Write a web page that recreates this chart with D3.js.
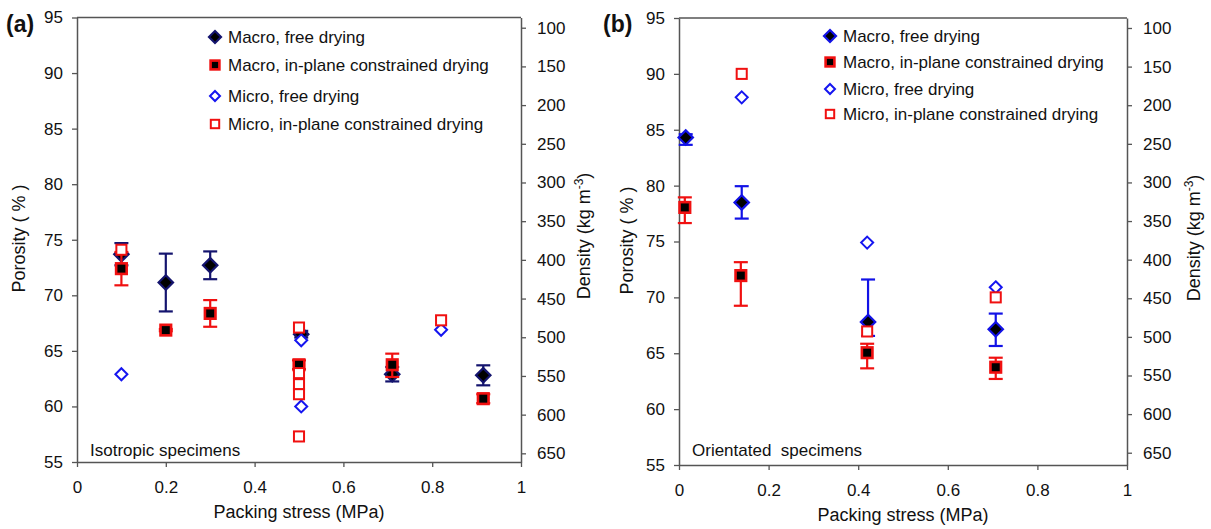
<!DOCTYPE html>
<html>
<head>
<meta charset="utf-8">
<script src="https://cdn.jsdelivr.net/npm/d3@7/dist/d3.min.js"></script>
<style>
  html, body { margin: 0; padding: 0; background: #fff; }
  svg { display: block; font-family: Arial, "Liberation Sans", sans-serif; }
</style>
</head>
<body>
<svg id="chart" width="1211" height="529"></svg>
<script>
// ---------- DATA ----------
const porosityTicks = [55, 60, 65, 70, 75, 80, 85, 90, 95];
const densityTicks = [100, 150, 200, 250, 300, 350, 400, 450, 500, 550, 600, 650];
const stressTicks = [0, 0.2, 0.4, 0.6, 0.8, 1];
const legendLabels = ["Macro, free drying", "Macro, in-plane constrained drying", "Micro, free drying", "Micro, in-plane constrained drying"];

// Panel (a) isotropic specimens
const a_macroFree_x = [0.1, 0.2, 0.3, 0.505, 0.71, 0.915];
const a_macroFree_y = [73.7, 71.15, 72.7, 66.5, 62.9, 62.8];
const a_macroFree_ep = [1.0, 2.6, 1.25, 0.3, 0.65, 0.9];
const a_macroFree_em = [1.0, 2.6, 1.25, 0.3, 0.65, 0.9];

const a_macroCon_x = [0.1, 0.2, 0.3, 0.5, 0.71, 0.915];
const a_macroCon_y = [72.4, 66.87, 68.37, 63.75, 63.75, 60.7];
const a_macroCon_ep = [1.5, 0.1, 1.2, 0.4, 1.0, 0.4];
const a_macroCon_em = [1.5, 0.1, 1.2, 0.4, 1.1, 0.4];

const a_microFree_x = [0.1, 0.505, 0.505, 0.82];
const a_microFree_y = [62.9, 65.95, 60.0, 66.9];

const a_microCon_x = [0.1, 0.5, 0.5, 0.5, 0.5, 0.5, 0.82];
const a_microCon_y = [74.1, 67.1, 63.0, 62.0, 61.1, 57.3, 67.75];

// Panel (b) orientated specimens
const b_macroFree_x = [0.015, 0.14, 0.422, 0.707];
const b_macroFree_y = [84.3, 78.5, 67.8, 67.15];
const b_macroFree_ep = [0.3, 1.45, 3.8, 1.4];
const b_macroFree_em = [0.65, 1.45, 1.25, 1.5];

const b_macroCon_x = [0.013, 0.138, 0.42, 0.707];
const b_macroCon_y = [78.05, 71.95, 65.05, 63.75];
const b_macroCon_ep = [0.9, 1.2, 0.8, 0.85];
const b_macroCon_em = [1.4, 2.7, 1.4, 1.05];

const b_microFree_x = [0.14, 0.42, 0.707];
const b_microFree_y = [87.9, 74.9, 70.9];

const b_microCon_x = [0.14, 0.42, 0.707];
const b_microCon_y = [90.0, 66.95, 70.0];

// ---------- DRAWING ----------
const svg = d3.select("#chart");
const AXIS = "#555";
const RED = "#f01010";

function zip(xs, ys, ep, em) {
  return xs.map((x, i) => ({ x, y: ys[i], ep: ep ? ep[i] : 0, em: em ? em[i] : 0 }));
}

function marker(g, type, cx, cy, s, macroColor) {
  if (type === "macroFree") {
    const r = s * 0.6;
    g.append("path").attr("d", `M${cx},${cy - r}L${cx + r},${cy}L${cx},${cy + r}L${cx - r},${cy}Z`)
      .attr("fill", "#000").attr("stroke", macroColor).attr("stroke-width", 2.2);
  } else if (type === "macroCon") {
    const h = s * 0.44;
    g.append("rect").attr("x", cx - h).attr("y", cy - h).attr("width", 2 * h).attr("height", 2 * h)
      .attr("fill", "#000").attr("stroke", RED).attr("stroke-width", 2.6);
  } else if (type === "microFree") {
    const r = s * 0.5;
    g.append("path").attr("d", `M${cx},${cy - r}L${cx + r},${cy}L${cx},${cy + r}L${cx - r},${cy}Z`)
      .attr("fill", "#fff").attr("stroke", "#1515f0").attr("stroke-width", 2);
  } else {
    const h = s * 0.42;
    g.append("rect").attr("x", cx - h).attr("y", cy - h).attr("width", 2 * h).attr("height", 2 * h)
      .attr("fill", "#fff").attr("stroke", RED).attr("stroke-width", 2);
  }
}

function drawPanel(cfg) {
  const x = d3.scaleLinear().domain([0, 1]).range([cfg.x0, cfg.x1]);
  const y = d3.scaleLinear().domain([55, 95]).range([cfg.y1, cfg.y0]);
  const yd = d3.scaleLinear().domain([cfg.dTop, cfg.dBot]).range([cfg.y0, cfg.y1]);
  const g = svg.append("g");

  // frame (top line)
  g.append("line").attr("x1", cfg.x0).attr("x2", cfg.x1).attr("y1", cfg.y0).attr("y2", cfg.y0)
    .attr("stroke", AXIS).attr("stroke-width", 1.5);

  const gl = g.append("g").attr("transform", `translate(${cfg.x0},0)`)
    .call(d3.axisLeft(y).tickValues(porosityTicks).tickFormat(d3.format("d")).tickSize(5).tickSizeOuter(0).tickPadding(9));
  const gr = g.append("g").attr("transform", `translate(${cfg.x1},0)`)
    .call(d3.axisRight(yd).tickValues(densityTicks).tickFormat(d3.format("d")).tickSize(5).tickSizeOuter(0).tickPadding(11));
  const gb = g.append("g").attr("transform", `translate(0,${cfg.y1})`)
    .call(d3.axisBottom(x).tickValues(stressTicks).tickFormat(d => d === 0 || d === 1 ? String(d) : d3.format(".1f")(d)).tickSize(5).tickSizeOuter(0).tickPadding(14));
  [gl, gr, gb].forEach(a => {
    a.selectAll("path.domain").attr("stroke", AXIS).attr("stroke-width", 1.5);
    a.selectAll(".tick line").attr("stroke", AXIS).attr("stroke-width", 1.3);
    a.selectAll(".tick text").attr("font-size", 17).attr("fill", "#111")
      .attr("font-family", "Arial, 'Liberation Sans', sans-serif");
  });

  // axis titles
  const pl = g.append("text").attr("transform", `translate(${cfg.x0 - cfg.pOff},${cfg.ymid}) rotate(-90)`)
    .attr("text-anchor", "middle").attr("font-size", 18).attr("fill", "#111");
  pl.append("tspan").text("Porosity ");
  pl.append("tspan").attr("letter-spacing", 5).text("(%)");

  const dl = g.append("text").attr("transform", `translate(${cfg.x1 + cfg.dOff},${cfg.ymid}) rotate(-90)`)
    .attr("text-anchor", "middle").attr("font-size", 18).attr("fill", "#111");
  dl.append("tspan").text("Density (kg m");
  dl.append("tspan").attr("font-size", 12).attr("dy", -7).text("-3");
  dl.append("tspan").attr("dy", 7).text(")");

  g.append("text").attr("x", (cfg.x0 + cfg.x1) / 2).attr("y", cfg.xlabY)
    .attr("text-anchor", "middle").attr("font-size", 18).attr("fill", "#111").text("Packing stress (MPa)");

  g.append("text").attr("x", cfg.titleX).attr("y", 32).attr("font-size", 23).attr("font-weight", "bold")
    .attr("fill", "#111").text(cfg.title);

  g.append("text").attr("x", cfg.x0 + 13).attr("y", 456).attr("font-size", 17).attr("fill", "#111")
    .attr("xml:space", "preserve").style("white-space", "pre").text(cfg.note);

  // series
  const series = [
    { type: "macroFree", data: cfg.macroFree, ec: cfg.macroColor },
    { type: "macroCon", data: cfg.macroCon, ec: RED },
    { type: "microFree", data: cfg.microFree },
    { type: "microCon", data: cfg.microCon }
  ];
  const S = 12;
  series.forEach(s => {
    const sg = g.append("g");
    if (s.ec) {
      s.data.forEach(d => {
        const cx = x(d.x), yt = y(d.y + d.ep), yb = y(d.y - d.em);
        sg.append("line").attr("x1", cx).attr("x2", cx).attr("y1", yt).attr("y2", yb).attr("stroke", s.ec).attr("stroke-width", 2.2);
        sg.append("line").attr("x1", cx - 7).attr("x2", cx + 7).attr("y1", yt).attr("y2", yt).attr("stroke", s.ec).attr("stroke-width", 2.2);
        sg.append("line").attr("x1", cx - 7).attr("x2", cx + 7).attr("y1", yb).attr("y2", yb).attr("stroke", s.ec).attr("stroke-width", 2.2);
      });
    }
    s.data.forEach(d => marker(sg, s.type, x(d.x), y(d.y), S, cfg.macroColor));
  });

  // legend
  const types = ["macroFree", "macroCon", "microFree", "microCon"];
  types.forEach((t, i) => {
    const ly = cfg.legY[i];
    marker(g, t, cfg.legX, ly, 10, cfg.macroColor);
    g.append("text").attr("x", cfg.legX + 13).attr("y", ly + 6).attr("font-size", 17).attr("fill", "#111").text(legendLabels[i]);
  });
}

drawPanel({
  x0: 77, x1: 521, y0: 17.5, y1: 462, dTop: 86.8, dBot: 661.2, ymid: 236, pOff: 52, dOff: 69, xlabY: 518,
  title: "(a)", titleX: 6, note: "Isotropic specimens", macroColor: "#14146e",
  legX: 215, legY: [37, 65, 96, 124],
  macroFree: zip(a_macroFree_x, a_macroFree_y, a_macroFree_ep, a_macroFree_em),
  macroCon: zip(a_macroCon_x, a_macroCon_y, a_macroCon_ep, a_macroCon_em),
  microFree: zip(a_microFree_x, a_microFree_y),
  microCon: zip(a_microCon_x, a_microCon_y)
});

drawPanel({
  x0: 679, x1: 1127, y0: 18, y1: 465, dTop: 87.06, dBot: 665.9, ymid: 238, pOff: 46, dOff: 73, xlabY: 521,
  title: "(b)", titleX: 603, note: "Orientated  specimens", macroColor: "#1212e6",
  legX: 830, legY: [36, 62, 89, 114],
  macroFree: zip(b_macroFree_x, b_macroFree_y, b_macroFree_ep, b_macroFree_em),
  macroCon: zip(b_macroCon_x, b_macroCon_y, b_macroCon_ep, b_macroCon_em),
  microFree: zip(b_microFree_x, b_microFree_y),
  microCon: zip(b_microCon_x, b_microCon_y)
});
</script>
</body>
</html>
